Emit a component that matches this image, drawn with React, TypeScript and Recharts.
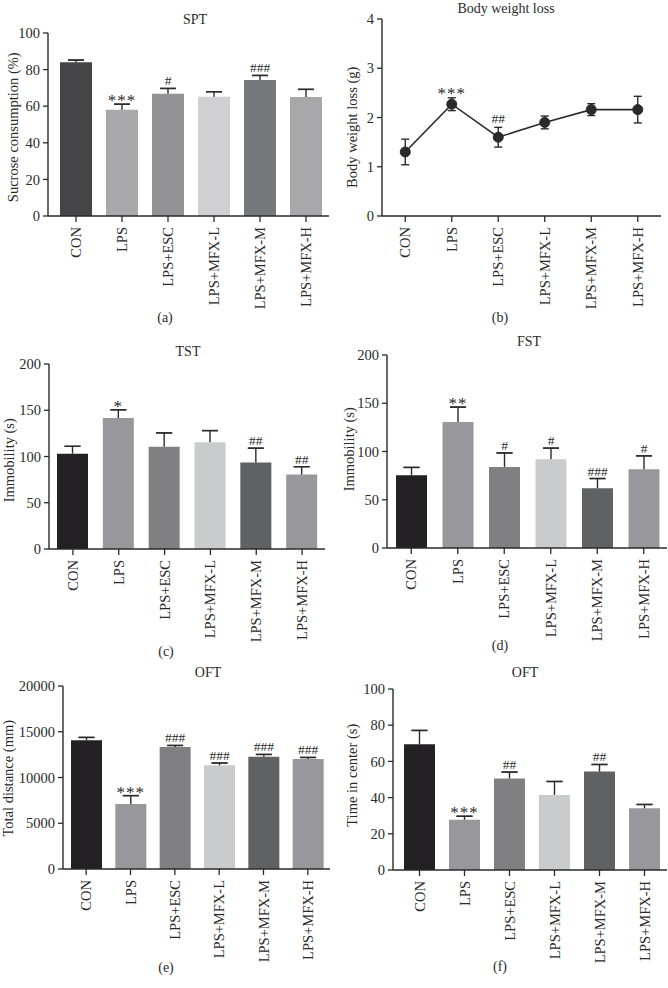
import React from 'react';
import { BarChart, Bar, XAxis, YAxis, ErrorBar, LabelList, Cell, LineChart, Line } from 'recharts';

const FONT = '"Liberation Serif", "DejaVu Serif", serif';
const INK = '#2a2a2a';

const groups = ['CON', 'LPS', 'LPS+ESC', 'LPS+MFX-L', 'LPS+MFX-M', 'LPS+MFX-H'];

// (a) SPT
const sptMean = [84, 58, 66.8, 65.1, 74.3, 65];
const sptErr = [1.2, 3.1, 2.9, 2.8, 2.5, 4.2];
const sptSig = ['', '***', '#', '', '###', ''];
const sptColors = ['#454547', '#a9a9ac', '#939395', '#d0d0d2', '#77787b', '#a8a8ab'];

// (b) Body weight loss
const bwMean = [1.3, 2.27, 1.6, 1.9, 2.16, 2.16];
const bwErr = [0.26, 0.13, 0.2, 0.13, 0.12, 0.27];
const bwSig = ['', '***', '##', '', '', ''];

// (c) TST
const tstMean = [103, 141.5, 110.5, 115.5, 93.5, 80.5];
const tstErr = [8, 9, 15, 12.5, 15.5, 8.5];
const tstSig = ['', '*', '', '', '##', '##'];

// (d) FST
const fstMean = [75.5, 130.5, 84, 92, 62, 81.5];
const fstErr = [8, 15.5, 14.5, 11.5, 10, 14];
const fstSig = ['', '**', '#', '#', '###', '#'];

// (e) OFT total distance
const distMean = [14080, 7110, 13320, 11330, 12270, 12010];
const distErr = [300, 910, 180, 250, 250, 180];
const distSig = ['', '***', '###', '###', '###', '###'];

// (f) OFT time in center
const centerMean = [69.5, 27.7, 50.6, 41.5, 54.4, 34.1];
const centerErr = [7.6, 2, 3.5, 7.4, 3.9, 2.1];
const centerSig = ['', '***', '##', '', '##', ''];

const darkColors = ['#232123', '#98989c', '#808083', '#cacbcd', '#606163', '#98989c'];

const tickStyle = { fontSize: 14.5, fill: INK, fontFamily: FONT };

function GroupTick(props: any) {
  const { x, y, payload } = props;
  const yy = y + 3;
  return (
    <text
      x={x}
      y={yy}
      transform={`rotate(-90 ${x} ${yy})`}
      textAnchor="end"
      dominantBaseline="central"
      fontSize={14.5}
      fontFamily={FONT}
      fill={INK}
    >
      {payload.value}
    </text>
  );
}

// significance marks sit just above the top of the error bar
function SigText({ x, top, value }: { x: number; top: number; value: string }) {
  const star = value.startsWith('*');
  return (
    <text
      x={x}
      y={star ? top + 2 : top - 3}
      textAnchor="middle"
      fontSize={star ? 17 : 13.5}
      letterSpacing={star ? 1 : 0}
      fontFamily={FONT}
      fill={INK}
    >
      {value}
    </text>
  );
}

interface Geo {
  left: number;
  yAxisX: number;
  plotTop: number;
  plotBottom: number;
  bandStart: number;
  bandEnd: number;
}

interface BarPanelProps {
  geo: Geo;
  means: number[];
  errs: number[];
  sig: string[];
  colors: string[];
  max: number;
  ticks: number[];
  barSize: number;
}

function BarPanel({ geo, means, errs, sig, colors, max, ticks, barSize }: BarPanelProps) {
  // stem: from the bar top up to mean+err; cap: both caps drawn at mean+err
  const data = groups.map((g, i) => ({
    name: g,
    mean: means[i],
    stem: [0, errs[i]],
    cap: [-errs[i], errs[i]],
    sig: sig[i],
  }));
  const chartTop = geo.plotTop - 14;
  const ppu = (geo.plotBottom - geo.plotTop) / max;
  const step = (geo.bandEnd - geo.bandStart) / groups.length;

  const renderSig = (props: any) => {
    const { x, y, width, value } = props;
    if (!value) return null;
    let idx = props.index;
    if (idx === undefined) idx = Math.floor((x + width / 2 - geo.bandStart + geo.left) / step);
    const top = y - errs[idx] * ppu;
    return <SigText x={x + width / 2} top={top} value={value} />;
  };

  return (
    <div style={{ position: 'absolute', left: geo.left, top: chartTop }}>
      <BarChart
        width={geo.bandEnd - geo.left}
        height={geo.plotBottom - chartTop + 95}
        data={data}
        margin={{ top: 14, right: 0, bottom: 0, left: 0 }}
        barSize={barSize}
      >
        <XAxis
          dataKey="name"
          interval={0}
          height={95}
          tick={<GroupTick />}
          tickSize={6}
          tickLine={{ stroke: INK, strokeWidth: 1.3 }}
          axisLine={{ stroke: INK, strokeWidth: 1.4 }}
          padding={{ left: geo.bandStart - geo.yAxisX, right: 0 }}
        />
        <YAxis
          width={geo.yAxisX - geo.left}
          domain={[0, max]}
          ticks={ticks}
          tick={tickStyle}
          tickSize={5}
          tickMargin={3}
          tickLine={{ stroke: INK, strokeWidth: 1.3 }}
          axisLine={{ stroke: INK, strokeWidth: 1.4 }}
          allowDataOverflow
        />
        <Bar dataKey="mean" isAnimationActive={false}>
          {data.map((d, i) => (
            <Cell key={d.name} fill={colors[i]} />
          ))}
          <ErrorBar dataKey="stem" width={0} stroke={INK} strokeWidth={1.4} direction="y" />
          <ErrorBar dataKey="cap" width={8} stroke={INK} strokeWidth={1.4} direction="y" />
          <LabelList dataKey="sig" content={renderSig} />
        </Bar>
      </BarChart>
    </div>
  );
}

function LinePanel({ geo }: { geo: Geo }) {
  const data = groups.map((g, i) => ({ name: g, mean: bwMean[i], err: bwErr[i], sig: bwSig[i] }));
  const chartTop = geo.plotTop - 14;
  const ppu = (geo.plotBottom - geo.plotTop) / 4;
  const pad = (geo.bandEnd - geo.bandStart) / groups.length / 2;

  const renderSig = (props: any) => {
    const { x, y, value, index } = props;
    if (!value) return null;
    const top = y - bwErr[index] * ppu;
    return <SigText x={x} top={top - 1} value={value} />;
  };

  return (
    <div style={{ position: 'absolute', left: geo.left, top: chartTop }}>
      <LineChart
        width={geo.bandEnd - geo.left}
        height={geo.plotBottom - chartTop + 95}
        data={data}
        margin={{ top: 14, right: 0, bottom: 0, left: 0 }}
      >
        <XAxis
          dataKey="name"
          interval={0}
          height={95}
          tick={<GroupTick />}
          tickSize={6}
          tickLine={{ stroke: INK, strokeWidth: 1.3 }}
          axisLine={{ stroke: INK, strokeWidth: 1.4 }}
          padding={{ left: pad, right: pad }}
        />
        <YAxis
          width={geo.yAxisX - geo.left}
          domain={[0, 4]}
          ticks={[0, 1, 2, 3, 4]}
          tick={tickStyle}
          tickSize={5}
          tickMargin={3}
          tickLine={{ stroke: INK, strokeWidth: 1.3 }}
          axisLine={{ stroke: INK, strokeWidth: 1.4 }}
        />
        <Line
          dataKey="mean"
          stroke={INK}
          strokeWidth={1.6}
          dot={{ r: 5, fill: INK, stroke: INK, strokeWidth: 1 }}
          isAnimationActive={false}
        >
          <ErrorBar dataKey="err" width={4} stroke={INK} strokeWidth={1.4} direction="y" />
          <LabelList dataKey="sig" content={renderSig} />
        </Line>
      </LineChart>
    </div>
  );
}

function Txt({ x, y, children, rotate = false, size = 14 }: { x: number; y: number; children: React.ReactNode; rotate?: boolean; size?: number }) {
  const w = 300;
  const h = size + 4;
  return (
    <div
      style={{
        position: 'absolute',
        left: x - w / 2,
        top: y - h / 2,
        width: w,
        height: h,
        lineHeight: `${h}px`,
        textAlign: 'center',
        transform: rotate ? 'rotate(-90deg)' : undefined,
        transformOrigin: '50% 50%',
        whiteSpace: 'nowrap',
        fontFamily: FONT,
        fontSize: size,
        color: INK,
      }}
    >
      {children}
    </div>
  );
}

export default function App() {
  return (
    <div style={{ position: 'absolute', left: 0, top: 0, width: 668, height: 988, background: '#fff', overflow: 'hidden' }}>
      <BarPanel
        geo={{ left: 0, yAxisX: 48, plotTop: 33, plotBottom: 216, bandStart: 53, bandEnd: 329 }}
        means={sptMean}
        errs={sptErr}
        sig={sptSig}
        colors={sptColors}
        max={100}
        ticks={[0, 20, 40, 60, 80, 100]}
        barSize={32}
      />
      <LinePanel geo={{ left: 334, yAxisX: 382, plotTop: 19, plotBottom: 216, bandStart: 382, bandEnd: 661 }} />
      <BarPanel
        geo={{ left: 0, yAxisX: 49, plotTop: 364, plotBottom: 549, bandStart: 50, bandEnd: 325 }}
        means={tstMean}
        errs={tstErr}
        sig={tstSig}
        colors={darkColors}
        max={200}
        ticks={[0, 50, 100, 150, 200]}
        barSize={31}
      />
      <BarPanel
        geo={{ left: 334, yAxisX: 387, plotTop: 355, plotBottom: 548, bandStart: 388, bandEnd: 667 }}
        means={fstMean}
        errs={fstErr}
        sig={fstSig}
        colors={darkColors}
        max={200}
        ticks={[0, 50, 100, 150, 200]}
        barSize={31}
      />
      <BarPanel
        geo={{ left: 0, yAxisX: 63, plotTop: 686, plotBottom: 869, bandStart: 64, bandEnd: 330 }}
        means={distMean}
        errs={distErr}
        sig={distSig}
        colors={darkColors}
        max={20000}
        ticks={[0, 5000, 10000, 15000, 20000]}
        barSize={31}
      />
      <BarPanel
        geo={{ left: 334, yAxisX: 393, plotTop: 689, plotBottom: 870, bandStart: 397, bandEnd: 667 }}
        means={centerMean}
        errs={centerErr}
        sig={centerSig}
        colors={darkColors}
        max={100}
        ticks={[0, 20, 40, 60, 80, 100]}
        barSize={31}
      />

      <Txt x={195} y={20}>SPT</Txt>
      <Txt x={506} y={9}>Body weight loss</Txt>
      <Txt x={188} y={352}>TST</Txt>
      <Txt x={529} y={342}>FST</Txt>
      <Txt x={208} y={673}>OFT</Txt>
      <Txt x={525} y={673}>OFT</Txt>

      <Txt x={13} y={127} rotate size={14.5}>Sucrose consumption (%)</Txt>
      <Txt x={352} y={127} rotate size={14.5}>Body weight loss (g)</Txt>
      <Txt x={9} y={460} rotate size={14.5}>Immobility (s)</Txt>
      <Txt x={349} y={449} rotate size={14.5}>Immobility (s)</Txt>
      <Txt x={8} y={778} rotate size={14.5}>Total distance (mm)</Txt>
      <Txt x={352} y={775} rotate size={14.5}>Time in center (s)</Txt>

      <Txt x={165} y={318}>(a)</Txt>
      <Txt x={500} y={318}>(b)</Txt>
      <Txt x={166} y={652}>(c)</Txt>
      <Txt x={500} y={646}>(d)</Txt>
      <Txt x={166} y={968}>(e)</Txt>
      <Txt x={500} y={967}>(f)</Txt>
    </div>
  );
}
